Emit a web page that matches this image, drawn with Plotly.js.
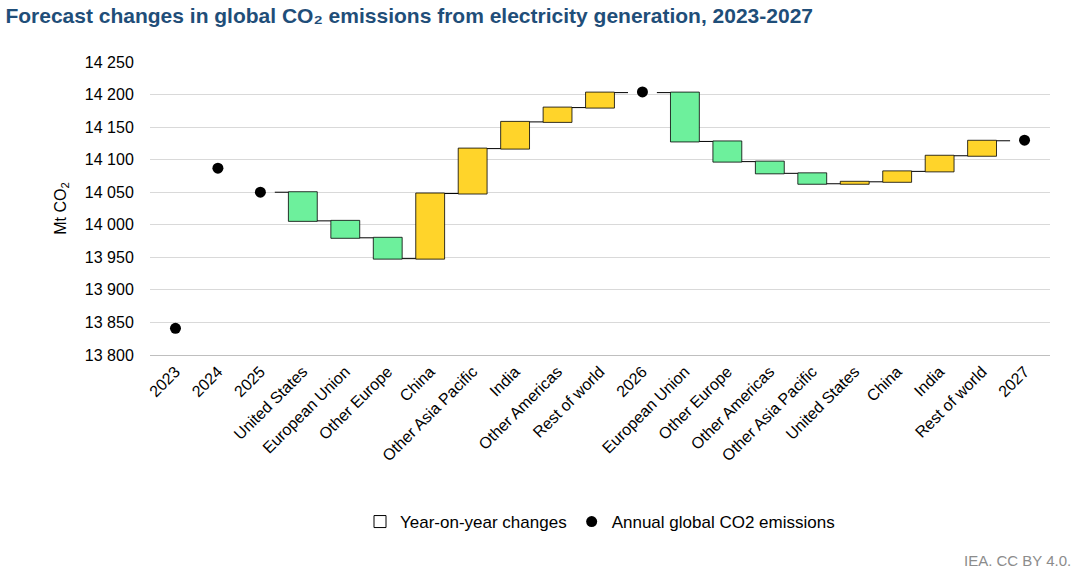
<!DOCTYPE html>
<html>
<head>
<meta charset="utf-8">
<script src="https://cdn.plot.ly/plotly-3.0.1.min.js"></script>
<style>body{margin:0;background:#fff}#chart{width:1080px;height:580px}</style>
</head>
<body>
<div id="chart"></div>
<script>
const LABELS = ["2023", "2024", "2025", "United States", "European Union", "Other Europe", "China",
  "Other Asia Pacific", "India", "Other Americas", "Rest of world", "2026", "European Union",
  "Other Europe", "Other Americas", "Other Asia Pacific", "United States", "China", "India",
  "Rest of world", "2027"];

// annual totals (dots)
const YEAR_INDEX = [0, 1, 2, 11, 20];
const YEAR_VALUES = [13841, 14087, 14050, 14204, 14130];

// waterfall chain starting at 2025
const STEP_MEASURE = ["absolute", "relative", "relative", "relative", "relative", "relative", "relative",
  "relative", "relative", "total", "relative", "relative", "relative", "relative", "relative",
  "relative", "relative", "relative", "total"];
const STEP_VALUES = [14050, -44, -26, -32, 100, 69, 41, 22, 23, 0, -75, -31, -18, -16, 3, 16, 24, 23, 0];

const stepX = STEP_VALUES.map((_, i) => i + 2);
const tickVals = LABELS.map((_, i) => i);

Plotly.newPlot("chart", [
  {
    type: "waterfall",
    x: stepX,
    y: STEP_VALUES,
    measure: STEP_MEASURE,
    width: 0.68,
    increasing: { marker: { color: "#FFD42A", line: { color: "#000", width: 0.8 } } },
    decreasing: { marker: { color: "#6DF09C", line: { color: "#000", width: 0.8 } } },
    totals: { marker: { color: "rgba(0,0,0,0)", line: { width: 0 } } },
    connector: { mode: "between", line: { color: "#000", width: 1 } },
    showlegend: false,
    hoverinfo: "skip",
  },
  {
    type: "bar",
    x: [null],
    y: [null],
    name: "Year-on-year changes",
    marker: { color: "#fff", line: { color: "#000", width: 1 } },
  },
  {
    type: "scatter",
    mode: "markers",
    x: YEAR_INDEX,
    y: YEAR_VALUES,
    name: "Annual global CO2 emissions",
    marker: { color: "#000", size: 11 },
  },
], {
  width: 1080,
  height: 580,
  margin: { l: 150, r: 30, t: 62, b: 225 },
  separators: ". ",
  paper_bgcolor: "#fff",
  plot_bgcolor: "#fff",
  font: { family: "Liberation Sans, Arial, sans-serif", color: "#000", size: 16 },
  title: {
    text: "<b>Forecast changes in global CO₂ emissions from electricity generation, 2023-2027</b>",
    x: 0.005, xanchor: "left", y: 0.985, yanchor: "top",
    font: { size: 21, color: "#1F4E79" },
  },
  xaxis: {
    tickvals: tickVals,
    ticktext: LABELS,
    tickangle: -45,
    range: [-0.6, 20.6],
    showgrid: false,
    showline: true,
    linecolor: "#bfbfbf",
    zeroline: false,
  },
  yaxis: {
    range: [13800, 14250],
    dtick: 50,
    tickformat: ",d",
    gridcolor: "#d9d9d9",
    zeroline: false,
    ticks: "outside",
    ticklen: 12,
    tickcolor: "#fff",
    title: { text: "Mt CO<sub>2</sub>", font: { size: 16 }, standoff: 14 },
  },
  legend: {
    orientation: "h",
    x: 0.5, xanchor: "center",
    y: -0.57, yanchor: "middle",
    font: { size: 17 },
    traceorder: "normal",
  },
  annotations: [{
    text: "IEA. CC BY 4.0.",
    xref: "paper", yref: "paper", x: 1.025, y: -0.70,
    xanchor: "right", yanchor: "middle", showarrow: false,
    font: { size: 15, color: "#8c8c8c" },
  }],
}, { displayModeBar: false });
</script>
</body>
</html>
